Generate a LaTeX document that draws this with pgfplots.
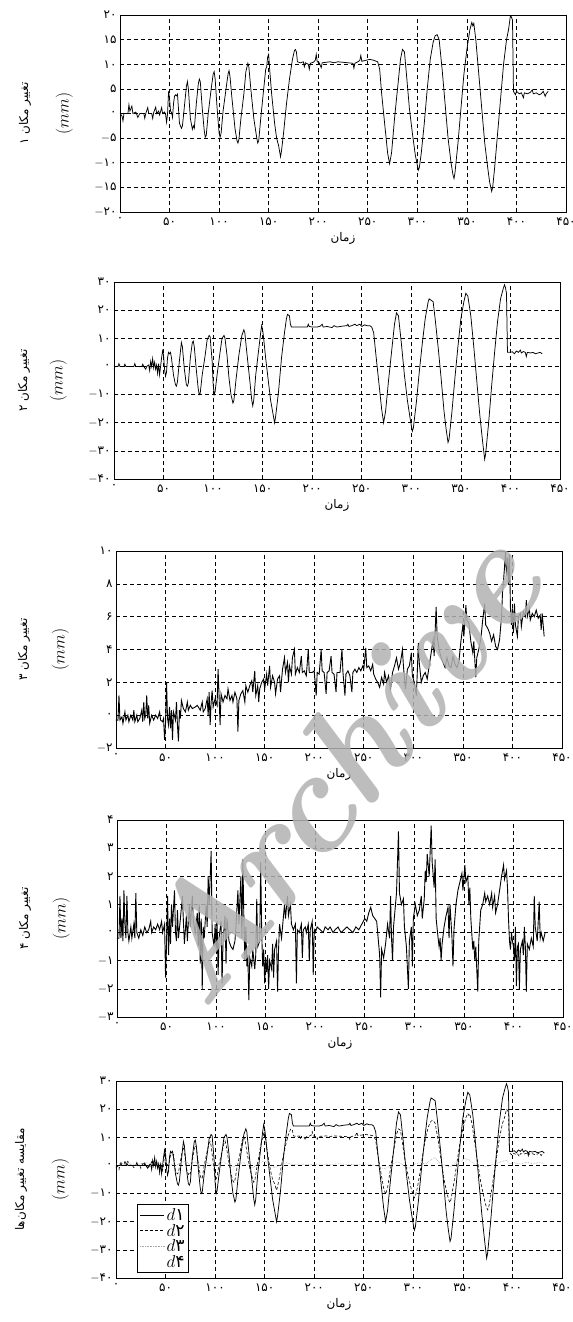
\documentclass[border=0pt]{standalone}
\usepackage{fontspec}
\usepackage{pgfplots}
\usepackage{pgfplotstable}
\pgfplotsset{compat=1.18}
\newfontfamily\farsi[Script=Arabic]{DejaVu Sans}
\TeXXeTstate=1
\newcommand{\mn}{$-$}

% displacement 1 (panel 1, also d2 in panel 5)
\pgfplotstableread{
x y
0 0
2 -0.5
3 -1.5
4 0
8 0
9 1.8
10 0.5
12 1.5
13 0
16 0.3
18 -0.8
20 0
24 0
25 -1
26 0
28 1.2
29 0
32 0
33 -1
34 0.2
36 1.3
37 0
39 0.5
40 -0.3
42 1.2
43 0
45 0.3
46 -0.2
47 -1.8
48 0
49 4.5
50 3.0
51 0.5
52 0.2
53 -0.8
54 2.0
55 3.5
56 3.8
57 3.6
58 3.9
59 1.0
60 -2.0
62 -3.0
63 -2.5
65 1.5
67 5.5
68 6.5
69 5.0
71 -1.0
73 -3.2
74 -2.5
75 -3.0
77 2.0
79 6.0
80 7.0
81 6.5
83 1.0
85 -3.5
86 -4.8
87 -4.5
89 0.0
92 5.0
94 8.0
95 8.5
96 7.0
98 1.0
100 -4.0
101 -4.8
102 -4.0
104 0.5
107 5.0
109 8.0
110 8.7
111 7.5
113 3.0
116 -3.0
118 -5.5
119 -6.0
120 -5.2
122 -1.0
125 4.0
127 8.5
129 10.2
130 9.5
132 5.0
135 -1.0
138 -5.0
139 -6.0
140 -5.5
142 -1.0
145 5.0
147 9.0
148 9.5
149 11.5
150 12.0
151 9.0
153 4.0
156 -2.0
158 -5.0
160 -6.5
162 -8.8
163 -7.5
165 -4.0
168 2.0
171 7.0
174 11.0
176 12.8
177 13.0
178 12.5
179 10.5
182 10.3
185 10.5
186 9.5
187 10.3
190 10.0
191 9.0
192 10.2
195 10.4
197 10.8
198 12.0
199 10.5
201 10.3
203 9.3
204 10.3
208 10.4
212 10.5
216 10.3
220 10.5
225 10.4
230 10.3
235 10.2
236 9.2
237 10.2
240 10.5
242 10.8
243 11.8
244 10.6
248 10.8
252 11.0
256 10.8
260 10.5
262 9.0
264 4.0
267 -2.0
270 -8.0
272 -10.2
274 -8.0
277 -1.0
280 5.0
283 11.0
285 13.0
287 12.5
289 8.0
292 1.0
295 -4.0
298 -8.5
300 -10.5
301 -11.5
302 -11.0
304 -8.0
307 -2.0
310 5.0
313 11.0
316 14.5
318 15.8
320 16.0
322 15.0
325 9.0
328 2.0
331 -5.0
334 -10.0
336 -12.5
337 -13.2
338 -12.0
341 -6.0
344 1.0
347 8.0
350 13.0
353 17.0
355 18.5
356 17.8
357 18.3
359 15.0
362 8.0
365 1.0
368 -6.0
371 -11.0
373 -14.0
375 -15.8
376 -15.0
378 -11.0
381 -4.0
384 3.0
387 10.0
390 15.0
392 17.0
393 18.5
394 20.0
395 19.5
396 19.0
397 4.5
399 3.8
400 4.5
403 4.0
405 4.2
407 3.2
408 4.2
411 4.0
414 4.3
416 4.8
417 4.0
420 4.2
423 3.8
425 4.0
427 4.5
429 3.5
430 4.0
432 4.5
}\dA

% displacement 2 (panel 2, also d1 in panel 5)
\pgfplotstableread{
x y
0 -1.0
1 0
4 0
5 1.0
6 0
10 0
11 0.8
12 0
20 0
21 1.0
22 0
28 0
29 0.8
30 0
32 -1.0
33 0
35 0.5
36 -1.5
37 1.8
38 0
39 2.8
40 -0.5
41 1.5
42 -1.0
43 0.5
44 -2.5
45 1.0
46 -3.0
47 0
48 3.0
49 5.5
50 4.0
51 -1.0
52 -3.5
53 -2.0
54 3.0
55 5.0
56 4.5
57 5.0
58 3.0
60 -3.0
62 -6.5
63 -7.0
64 -5.5
66 2.0
68 8.5
69 7.0
71 -1.0
73 -6.5
74 -7.0
75 -6.0
77 3.0
79 8.5
80 9.0
81 7.0
83 -1.0
85 -8.0
86 -10.0
87 -9.5
89 -3.0
92 4.0
94 9.5
96 11.0
97 10.5
99 2.0
100 -6.0
101 -10.0
102 -9.0
104 -3.0
107 5.0
109 10.0
111 11.0
112 10.0
114 4.0
116 -4.0
118 -10.0
120 -13.0
121 -12.0
123 -5.0
126 4.0
129 11.0
131 13.0
132 12.0
134 5.0
137 -5.0
139 -12.0
140 -14.0
141 -12.0
143 -3.0
146 6.0
148 12.0
149 14.5
150 13.0
151 10.0
153 3.0
156 -6.0
158 -12.0
160 -16.0
162 -20.0
163 -18.0
166 -9.0
169 3.0
172 12.0
174 17.0
175 18.5
177 18.0
178 15.0
179 14.0
185 14.0
190 14.0
195 14.0
196 15.0
197 14.2
200 14.0
205 14.0
208 14.3
210 15.0
211 14.0
215 14.2
220 13.8
222 14.5
225 14.0
230 14.3
235 14.5
236 15.0
237 14.2
240 14.5
243 15.0
245 14.5
248 15.0
250 14.2
253 14.8
255 14.5
258 14.5
260 14.0
262 12.0
264 5.0
267 -5.0
270 -15.0
272 -20.0
274 -16.0
277 -5.0
280 5.0
283 15.0
285 19.0
287 18.0
290 8.0
293 -3.0
296 -12.0
299 -19.0
300 -21.0
301 -23.0
302 -22.0
305 -13.0
308 -2.0
311 8.0
314 17.0
317 23.0
318 24.0
320 23.5
322 23.0
324 17.0
327 7.0
330 -4.0
333 -16.0
335 -22.0
337 -27.0
338 -26.0
341 -16.0
344 -4.0
347 7.0
350 17.0
353 23.0
355 26.0
357 25.0
360 18.0
363 7.0
366 -5.0
369 -17.0
372 -27.0
374 -33.0
375 -31.0
378 -20.0
381 -7.0
384 5.0
387 16.0
390 24.0
393 28.0
394 29.0
395 28.0
396 26.0
397 5.0
399 5.0
402 5.2
404 4.5
406 5.5
408 5.0
410 5.8
411 4.8
413 5.3
415 5.0
416 3.5
417 5.0
420 4.8
423 5.0
425 4.5
428 4.8
430 5.0
432 4.5
}\dB

% displacement 3
\pgfplotstableread{
x y
0 -0.3
2 -0.3
3 1.2
4 -0.3
6 -0.1
7 -0.5
9 0.2
10 -0.3
12 0
13 -0.4
15 0
17 -0.3
18 0.3
19 -0.4
21 0
22 -0.4
24 -0.2
26 0.3
27 -0.4
28 0.8
29 -0.2
30 0
31 1.2
32 -0.2
33 0.6
34 -0.5
36 0
38 -0.3
40 0
42 -0.2
44 0.2
45 -0.3
47 -0.4
48 -0.2
49 -1.5
50 -0.5
51 2.0
52 -0.2
53 -0.6
54 0.5
55 -0.8
56 0.3
57 -1.5
58 0.2
60 -0.3
61 0.8
62 -0.6
63 -1.6
64 0.3
65 -0.2
66 0.9
68 0.4
70 0.2
72 0.8
73 0.3
75 0.6
77 0.4
80 0.5
82 0.6
85 0.3
87 0.8
88 0.2
90 0.4
92 1.0
93 0.0
94 1.4
95 -0.6
96 0.8
97 1.5
98 0.5
100 1.0
102 0.6
103 2.8
104 1.2
105 -0.6
106 1.3
108 0.8
110 1.2
112 1.0
113 1.6
115 0.9
117 1.2
118 0.8
120 1.4
122 1.0
123 -1.0
124 0.9
126 1.3
128 1.5
130 0.8
131 1.8
133 1.4
135 1.8
137 2.1
138 1.4
140 2.7
141 1.2
143 1.8
144 0.8
145 1.6
147 2.0
149 2.2
150 1.6
152 2.5
153 1.8
155 3.0
156 1.7
158 2.4
160 2.0
161 1.3
163 2.2
165 2.4
166 1.4
168 2.8
170 3.5
171 2.6
173 3.2
174 2.0
175 3.0
177 2.5
178 3.5
180 4.0
181 2.5
183 2.9
185 2.6
187 3.6
188 2.6
190 2.7
192 2.4
194 4.0
195 2.6
198 2.6
200 2.7
202 1.2
203 2.6
205 2.5
207 4.0
208 2.7
210 2.6
212 1.3
213 2.6
215 2.7
217 3.6
218 2.6
220 2.5
222 1.4
223 2.6
226 2.6
228 4.0
229 2.6
231 1.2
232 2.5
234 2.7
236 2.4
238 1.4
239 2.6
241 2.8
243 2.6
245 2.9
247 2.7
249 3.0
250 2.8
252 4.1
253 2.9
255 3.0
257 2.7
259 3.1
260 2.5
262 2.2
264 2.0
266 1.7
268 2.3
270 1.9
271 2.6
273 2.0
275 2.4
277 1.6
279 2.6
281 3.0
283 3.5
285 2.8
287 3.2
289 4.0
290 3.0
292 1.6
294 2.8
296 3.0
298 3.8
299 2.4
301 2.0
303 1.2
304 2.6
305 4.4
306 3.2
308 2.0
310 2.4
312 2.6
314 2.2
316 3.0
318 3.8
320 4.6
321 3.6
323 6.6
324 4.8
326 4.0
328 3.5
330 3.2
332 2.9
334 3.5
336 3.0
338 2.9
340 3.6
342 3.1
344 2.9
346 3.3
348 4.5
350 5.5
351 4.8
353 6.7
354 5.8
356 5.6
358 4.5
360 3.8
361 4.5
363 2.3
364 3.5
366 4.0
368 4.6
370 5.8
372 6.8
373 5.5
375 5.3
377 5.0
379 4.5
381 4.9
383 4.2
385 4.0
387 4.6
389 6.0
390 7.5
391 8.2
392 9.0
393 10.0
394 8.5
395 9.6
396 8.0
397 9.8
398 6.5
399 5.5
400 6.5
401 5.0
402 6.8
403 5.5
405 4.8
406 6.0
408 6.2
409 5.4
411 6.3
413 6.0
414 7.0
415 6.0
417 6.5
418 5.8
420 6.2
422 6.0
424 6.4
426 5.9
428 6.1
429 5.2
430 6.2
432 4.8
}\dC

% displacement 4
\pgfplotstableread{
x y
0 -0.2
2 -0.2
3 1.3
4 -0.2
5 0.5
6 -0.3
7 1.5
8 0.3
9 -0.2
10 1.3
11 0.0
12 -0.3
14 0.2
15 -0.2
17 0.3
18 -0.2
19 1.4
20 0.0
22 -0.2
24 0.1
26 -0.1
28 0.2
30 0.0
32 0.1
34 0.4
35 0.0
37 0.2
39 0.1
41 0.3
43 0.1
45 0.4
46 0.0
48 0.3
49 -1.6
50 -0.3
51 1.3
52 -0.8
53 0.5
54 -0.4
55 1.0
56 0.2
58 1.5
59 0.0
60 -0.3
61 0.8
62 -0.2
64 0.5
66 1.3
67 0.4
68 -0.4
70 0.6
71 -0.3
73 1.0
74 0.2
76 1.3
77 0.4
79 0.0
81 0.7
82 -0.5
83 1.0
84 -1.1
85 0.5
86 -2.0
87 0.2
88 -0.2
90 1.0
91 0.2
92 2.0
93 1.0
95 2.9
96 0.0
98 -0.5
99 0.3
100 -0.6
101 0.4
102 -1.5
103 -0.2
105 0.4
106 -1.8
107 -0.3
109 0.6
110 -1.1
111 0.5
113 -0.3
115 -0.5
117 -0.6
119 -0.3
120 0.2
122 1.5
123 0.3
125 2.0
126 -0.2
127 2.6
128 0.5
129 -1.0
130 0.2
131 -1.2
132 -0.8
133 -2.4
134 -0.9
136 -1.2
137 -0.6
139 -1.3
140 -0.8
141 1.2
142 -0.5
144 -0.3
145 2.5
146 0.0
147 -1.2
148 -0.6
149 -1.8
150 -0.9
151 -1.4
152 -0.8
153 -2.0
154 -1.0
156 -1.3
157 -0.4
158 -1.6
159 -0.6
161 -0.3
162 -2.1
163 -0.6
164 0.3
166 -0.2
168 0.6
169 1.0
170 0.5
172 1.3
173 0.6
175 1.0
176 0.3
178 0.1
180 0.3
181 -1.8
182 0.1
184 0.0
186 0.3
187 -0.9
188 0.1
190 0.2
191 0.0
193 0.3
194 -1.0
195 0.1
197 0.4
198 -1.5
199 0.1
200 0.0
202 0.2
205 0.1
208 0.0
210 0.2
213 0.1
215 0.2
218 0.0
220 0.1
223 0.2
226 0.0
229 0.1
232 0.2
235 0.1
238 0.0
241 0.2
244 0.1
247 0.3
250 0.5
252 0.4
254 0.7
256 0.9
258 0.6
260 0.5
262 0.4
264 -0.4
265 -0.8
266 -2.3
267 -0.6
269 -0.9
271 -0.4
273 0.3
275 -0.2
276 1.3
277 -0.2
278 -1.0
279 0.2
281 1.0
282 1.4
283 2.5
284 3.6
285 1.4
287 1.0
289 1.2
290 0.2
292 -0.5
294 -2.0
295 -0.3
297 0.2
298 -1.2
299 0.5
301 1.0
303 0.6
305 0.8
307 1.3
308 0.5
310 1.2
311 2.2
312 1.8
313 2.8
315 2.0
317 3.8
318 2.5
320 1.6
321 2.6
322 0.5
324 -0.2
325 -0.5
326 -0.2
327 -1.0
328 -0.4
330 0.2
332 0.6
334 0.9
335 -0.2
336 1.0
338 -0.2
339 -1.2
340 0.1
342 1.0
344 1.5
346 1.8
348 2.1
349 1.5
351 2.4
352 1.8
354 2.0
355 1.0
356 1.6
357 0.5
359 -0.6
360 -0.3
361 -1.0
362 -0.5
364 -2.1
365 -0.3
367 0.8
369 1.0
371 1.4
372 1.1
374 1.3
376 1.0
378 1.4
379 0.9
381 1.3
382 0.7
384 1.0
386 1.5
388 2.0
390 2.4
391 1.9
393 2.2
394 1.6
395 0.5
396 -0.3
397 -0.6
398 0.0
399 -0.3
400 -0.5
401 -1.0
402 0.2
403 -1.9
404 -0.5
405 -0.4
406 -2.0
407 -0.6
409 -0.3
410 -0.8
411 0.2
412 -0.5
413 -2.1
414 -0.4
416 -0.6
418 -0.2
420 -0.5
421 1.3
422 0.2
424 -0.3
426 1.1
427 -0.2
428 0.0
430 -0.3
432 0.0
}\dD

% dotted grey curve of the comparison panel
\pgfplotstableread{
x y
0 0.5
10 0.8
20 0.3
30 1.0
40 0.5
50 1.0
60 0
65 0.8
70 1.5
75 0.2
80 1.2
86 -0.3
92 1.0
100 -0.4
108 1.2
118 -0.5
128 1.0
138 -0.8
145 1.0
150 1.5
155 0.5
160 -0.8
165 0.0
172 1.0
178 0.3
185 0.5
195 0.3
205 0.5
215 0.3
225 0.6
235 0.3
245 0.4
255 0.5
262 0
267 -0.8
272 -1.2
277 0
283 1.2
287 0.8
292 -0.5
297 -1.0
302 0.5
307 1.0
312 0.5
318 2.0
322 2.8
326 1.0
332 0
337 -0.5
342 0.8
348 1.5
352 2.5
356 2.0
362 0.5
368 0
374 -0.5
380 0.3
386 1.0
390 1.5
394 1.8
397 0.6
402 1.0
408 0.5
414 1.2
420 0.6
426 1.0
432 0.8
}\dE

\pgfplotsset{
  panel/.style={
    scale only axis,
    width=446bp, height=197bp,
    xmin=0, xmax=450,
    xtick={0,50,...,450},
    xticklabels={۰,۵۰,۱۰۰,۱۵۰,۲۰۰,۲۵۰,۳۰۰,۳۵۰,۴۰۰,۴۵۰},
    tick label style={font=\farsi\large},
    xticklabel style={yshift=-2bp},
    major tick length=0pt,
    grid=major,
    grid style={black, line width=0.6pt, dash pattern=on 4bp off 3bp},
    axis line style={line width=0.9pt},
    xlabel={\beginR زمان\endR},
    xlabel style={font=\farsi\large},
    ylabel={$(mm)$},
    y label style={at={(rel axis cs:-0.125,0.5)}, anchor=center, font=\LARGE},
  },
  trace/.style={black, line width=0.75pt, mark=none},
}

\begin{document}
\begin{tikzpicture}

\begin{axis}[panel, name=p1, at={(120bp,-212bp)},
  ymin=-20, ymax=20, ytick={-20,-15,...,20},
  yticklabels={\mn۲۰,\mn۱۵,\mn۱۰,\mn۵,۰,۵,۱۰,۱۵,۲۰}]
\addplot[trace] table {\dA};
\end{axis}
\node[rotate=90, font=\farsi\large] at ([xshift=-95bp]p1.west) {\beginR تغییر مکان ۱\endR};

\begin{axis}[panel, name=p2, at={(114bp,-479bp)},
  ymin=-40, ymax=30, ytick={-40,-30,...,30},
  yticklabels={\mn۴۰,\mn۳۰,\mn۲۰,\mn۱۰,۰,۱۰,۲۰,۳۰}]
\addplot[trace] table {\dB};
\end{axis}
\node[rotate=90, font=\farsi\large] at ([xshift=-90bp]p2.west) {\beginR تغییر مکان ۲\endR};

\begin{axis}[panel, name=p3, at={(116bp,-748bp)},
  ymin=-2, ymax=10, ytick={-2,0,...,10},
  yticklabels={\mn۲,۰,۲,۴,۶,۸,۱۰}]
\addplot[trace, line width=0.9pt] table {\dC};
\end{axis}
\node[rotate=90, font=\farsi\large] at ([xshift=-92bp]p3.west) {\beginR تغییر مکان ۳\endR};

\begin{axis}[panel, name=p4, at={(117bp,-1017bp)},
  ymin=-3, ymax=4, ytick={-3,-2,...,4},
  yticklabels={\mn۳,\mn۲,\mn۱,۰,۱,۲,۳,۴}]
\addplot[trace, line width=0.9pt] table {\dD};
\end{axis}
\node[rotate=90, font=\farsi\large] at ([xshift=-92bp]p4.west) {\beginR تغییر مکان ۴\endR};

\begin{axis}[panel, name=p5, at={(116bp,-1278bp)},
  ymin=-40, ymax=30, ytick={-40,-30,...,30},
  yticklabels={\mn۴۰,\mn۳۰,\mn۲۰,\mn۱۰,۰,۱۰,۲۰,۳۰},
  legend style={at={(0.048,0.374)}, anchor=north west, draw=black,
    line width=0.8pt, font=\LARGE, cells={anchor=west},
    inner sep=2pt, row sep=-2pt},
  legend image post style={line width=0.8pt},
  legend image code/.code={\draw[#1] (0cm,0cm) -- (0.85cm,0cm);}]
\addplot[trace] table {\dB};
\addlegendentry{$d${\farsi ۱}}
\addplot[black, line width=0.6pt, densely dashed] table {\dA};
\addlegendentry{$d${\farsi ۲}}
\addplot[gray!70, line width=0.6pt, densely dotted] table {\dE};
\addlegendentry{$d${\farsi ۳}}
\addlegendimage{white}
\addlegendentry{$d${\farsi ۴}}
\end{axis}
\node[rotate=90, font=\farsi\large] at ([xshift=-95bp]p5.west) {\beginR مقایسه تغییر مکان‌ها\endR};

% watermark
\node[rotate=51, text=gray!60, opacity=0.85, font=\fontsize{146}{146}\selectfont\bfseries\itshape]
  at (336bp,-768bp) {Archive};

\pgfresetboundingbox
\path[use as bounding box] (0,0) rectangle (573bp,-1322bp);
\end{tikzpicture}
\end{document}
